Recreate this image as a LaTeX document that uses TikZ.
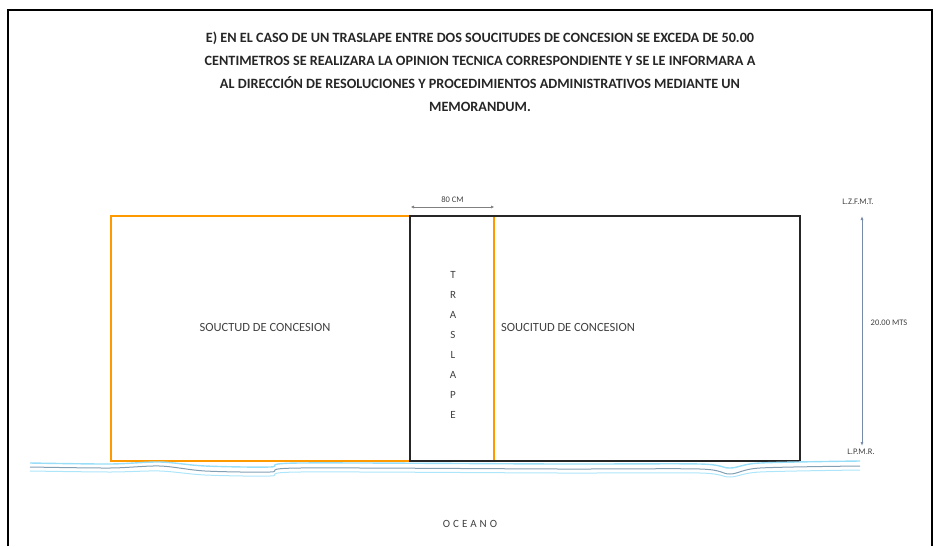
\documentclass[tikz,border=0pt]{standalone}
\usepackage{fontspec}
\setmainfont{Carlito}
\usepackage{tikz}
\usetikzlibrary{arrows.meta}
\colorlet{lotorange}{orange!80!yellow}
\colorlet{seacyan}{cyan!40}
\definecolor{seagray}{RGB}{130,160,180}
\colorlet{labelgray}{black!75}
\definecolor{dimblue}{RGB}{120,140,170}
\tikzset{
  smalllbl/.style={font=\fontsize{8.5}{10}\selectfont,text=labelgray,inner sep=1pt},
  lotlbl/.style={font=\fontsize{12.5}{14}\selectfont,text=labelgray},
}

\begin{document}
\begin{tikzpicture}[x=1pt,y=-1pt,>=Latex]
\useasboundingbox (0,0) rectangle (939,546);
\draw[line width=1.2pt] (8,546)--(8,10)--(932,10)--(932,546);
\node[font=\fontsize{14.2}{23}\selectfont\bfseries,text=black!85,align=center] (title) at (480,72)
  {E) EN EL CASO DE UN TRASLAPE ENTRE DOS SOUCITUDES DE CONCESION SE EXCEDA DE 50.00\\
   CENTIMETROS SE REALIZARA LA OPINION TECNICA CORRESPONDIENTE Y SE LE INFORMARA A\\
   AL DIRECCIÓN DE RESOLUCIONES Y PROCEDIMIENTOS ADMINISTRATIVOS MEDIANTE UN\\
   MEMORANDUM.};
% lots
\draw[lotorange,line width=1.6pt] (111,216) rectangle (494,461);
\draw[black!85,line width=1.8pt] (410,216) rectangle (800,461);
\node[lotlbl] (lotA) at (265,327) {SOUCTUD DE CONCESION};
\node[lotlbl] (lotB) at (568,327) {SOUCITUD DE CONCESION};
\foreach \l [count=\i] in {T,R,A,S,L,A,P,E}
  \node[lotlbl,font=\fontsize{11}{12}\selectfont] (tr\i) at (453,255+20*\i) {\l};
% overlap width
\coordinate (ovl) at (411,207); \coordinate (ovr) at (494,207);
\draw[<->,gray,thin,>={Latex[length=3pt,width=3pt]}] (ovl)--(ovr) node[smalllbl,midway,above=3pt] {80 CM};
% zone depth
\node[smalllbl] (lzfmt) at (858,202) {L.Z.F.M.T.};
\node[smalllbl] (lpmr) at (861,452) {L.P.M.R.};
\coordinate (zt) at (862,216); \coordinate (zb) at (862,446);
\draw[<->,dimblue,line width=1pt,>={Latex[length=4pt,width=3pt]}] (zt)--(zb);
\node[smalllbl] (depth) at (889,323) {20.00 MTS};
% sea
\draw[seacyan,line width=1.4pt] plot[smooth] coordinates {(30,463) (110,464) (160,462) (205,466) (270,467) (300,463) (560,464) (700,464) (730,468) (760,463) (860,461)};
\draw[seagray,line width=1pt] plot[smooth] coordinates {(30,467) (110,468) (160,466) (205,471) (270,472) (300,468) (560,469) (700,469) (730,474) (760,468) (860,466)};
\draw[seacyan!80,line width=1pt] plot[smooth] coordinates {(30,471) (110,472) (160,471) (205,475) (270,476) (300,472) (560,473) (700,473) (730,477) (760,472) (860,470)};
\node[font=\fontsize{11}{12}\selectfont,text=labelgray] (sea) at (470,524) {O\hspace{3pt}C\hspace{3pt}E\hspace{3pt}A\hspace{3pt}N\hspace{3pt}O};
\end{tikzpicture}
\end{document}
